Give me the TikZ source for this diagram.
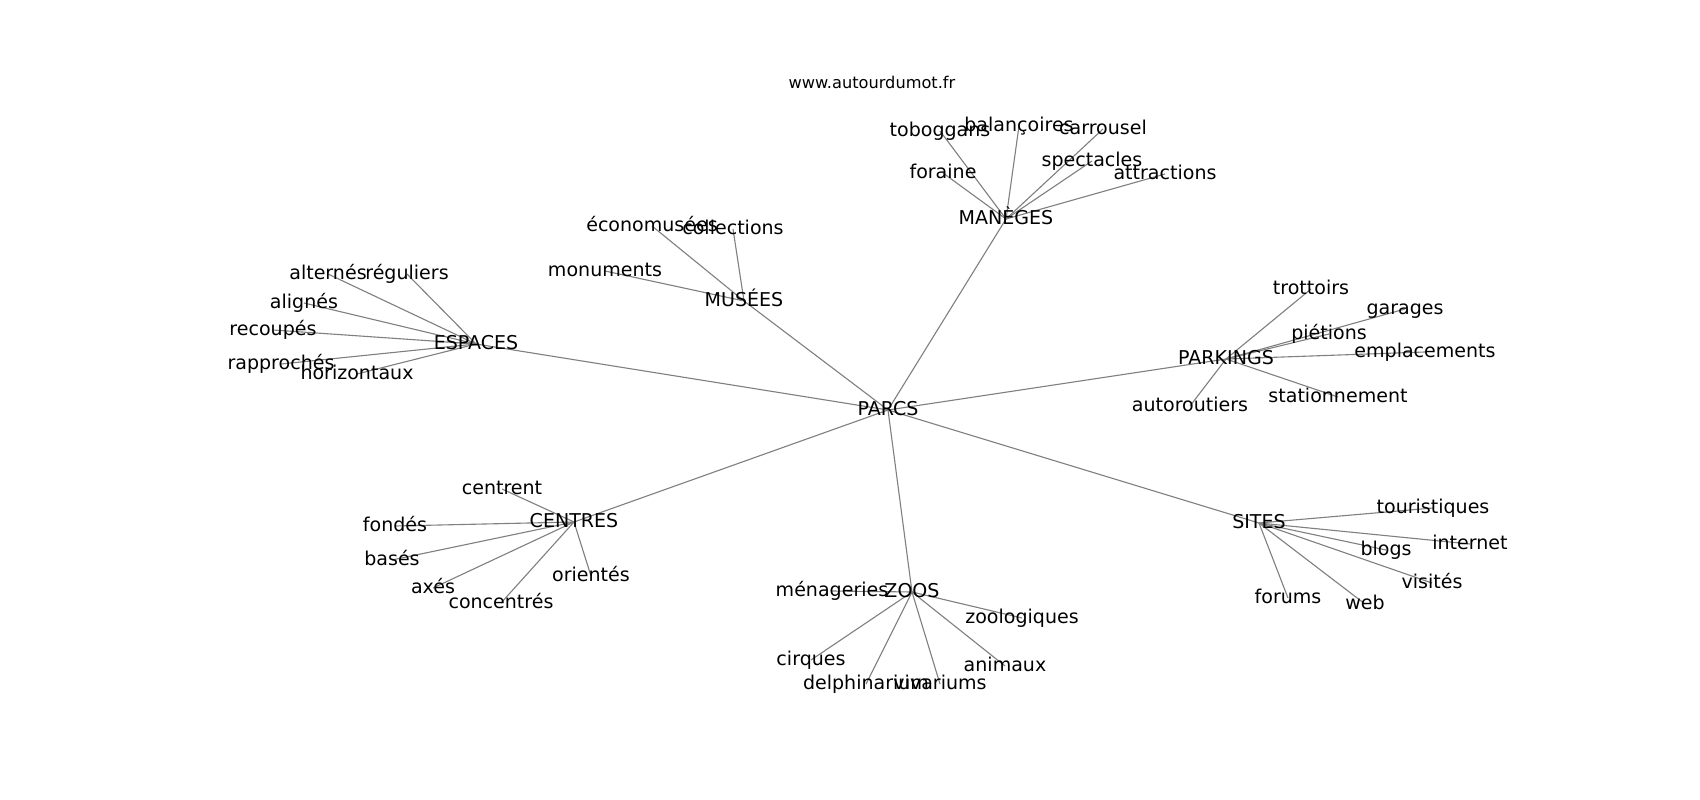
\documentclass[tikz,border=0pt]{standalone}
\usepackage{fontspec}
\setmainfont{DejaVu Sans}
\usetikzlibrary{backgrounds}
\tikzset{
  lbl/.style={inner sep=0pt, outer sep=0pt, text height=10.45pt, text depth=2.86pt,
    font=\fontsize{13.75pt}{16pt}\selectfont, text=black},
  ttl/.style={inner sep=0pt, text height=8.9pt, text depth=2.43pt,
    font=\fontsize{11.7pt}{14pt}\selectfont, text=black},
  edge/.style={draw=gray, line width=0.8pt}
}
\begin{document}
\begin{tikzpicture}[x=0.01in, y=-0.01in]
\useasboundingbox (0,0) rectangle (1700,800);
\node[ttl] (title) at (872,84) {www.autourdumot.fr};
% hubs
\node[lbl] (parcs) at (888,410) {PARCS};
\node[lbl] (maneges) at (1006,219) {MANÈGES};
\node[lbl] (musees) at (744,301) {MUSÉES};
\node[lbl] (espaces) at (476,344) {ESPACES};
\node[lbl] (parkings) at (1226,359) {PARKINGS};
\node[lbl] (centres) at (574,522) {CENTRES};
\node[lbl] (zoos) at (912,592) {ZOOS};
\node[lbl] (sites) at (1259,523) {SITES};
% maneges
\node[lbl] (toboggans) at (940,131) {toboggans};
\node[lbl] (balancoires) at (1019,126) {balançoires};
\node[lbl] (carrousel) at (1103,129) {carrousel};
\node[lbl] (foraine) at (943,173) {foraine};
\node[lbl] (spectacles) at (1092,161) {spectacles};
\node[lbl] (attractions) at (1165,174) {attractions};
% musees
\node[lbl] (economusees) at (652,226) {économusées};
\node[lbl] (collections) at (733,229) {collections};
\node[lbl] (monuments) at (605,271) {monuments};
% espaces
\node[lbl] (alternes) at (328,274) {alternés};
\node[lbl] (reguliers) at (407,274) {réguliers};
\node[lbl] (alignes) at (304,303) {alignés};
\node[lbl] (recoupes) at (273,330) {recoupés};
\node[lbl] (rapproches) at (281,364) {rapprochés};
\node[lbl] (horizontaux) at (357,374) {horizontaux};
% parkings
\node[lbl] (trottoirs) at (1311,289) {trottoirs};
\node[lbl] (garages) at (1405,309) {garages};
\node[lbl] (pietions) at (1329,334) {piétions};
\node[lbl] (emplacements) at (1425,352) {emplacements};
\node[lbl] (stationnement) at (1338,397) {stationnement};
\node[lbl] (autoroutiers) at (1190,406) {autoroutiers};
% centres
\node[lbl] (centrent) at (502,489) {centrent};
\node[lbl] (fondes) at (395,526) {fondés};
\node[lbl] (bases) at (392,560) {basés};
\node[lbl] (axes) at (433,588) {axés};
\node[lbl] (concentres) at (501,603) {concentrés};
\node[lbl] (orientes) at (591,576) {orientés};
% zoos
\node[lbl] (menageries) at (832,591) {ménageries};
\node[lbl] (zoologiques) at (1022,618) {zoologiques};
\node[lbl] (cirques) at (811,660) {cirques};
\node[lbl] (animaux) at (1005,666) {animaux};
\node[lbl] (delphinarium) at (866,684) {delphinarium};
\node[lbl] (vivariums) at (940,684) {vivariums};
% sites
\node[lbl] (touristiques) at (1433,508) {touristiques};
\node[lbl] (internet) at (1470,544) {internet};
\node[lbl] (blogs) at (1386,550) {blogs};
\node[lbl] (visites) at (1432,583) {visités};
\node[lbl] (forums) at (1288,598) {forums};
\node[lbl] (web) at (1365,604) {web};
\begin{scope}[on background layer]
\fill[white] (0,0) rectangle (1700,800);
\foreach \h in {maneges,musees,espaces,parkings,centres,zoos,sites}
  \draw[edge] (parcs.center) -- (\h.center);
\foreach \l in {toboggans,balancoires,carrousel,foraine,spectacles,attractions}
  \draw[edge] (maneges.center) -- (\l.center);
\foreach \l in {economusees,collections,monuments}
  \draw[edge] (musees.center) -- (\l.center);
\foreach \l in {alternes,reguliers,alignes,recoupes,rapproches,horizontaux}
  \draw[edge] (espaces.center) -- (\l.center);
\foreach \l in {trottoirs,garages,pietions,emplacements,stationnement,autoroutiers}
  \draw[edge] (parkings.center) -- (\l.center);
\foreach \l in {centrent,fondes,bases,axes,concentres,orientes}
  \draw[edge] (centres.center) -- (\l.center);
\foreach \l in {menageries,zoologiques,cirques,animaux,delphinarium,vivariums}
  \draw[edge] (zoos.center) -- (\l.center);
\foreach \l in {touristiques,internet,blogs,visites,forums,web}
  \draw[edge] (sites.center) -- (\l.center);
\end{scope}
\end{tikzpicture}
\end{document}
